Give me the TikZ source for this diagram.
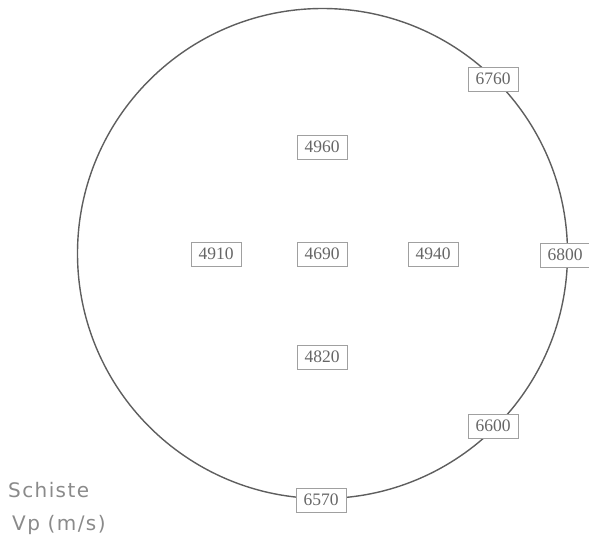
\documentclass[tikz,border=0pt]{standalone}
\usepackage{fontspec}
\setmainfont{Liberation Serif}
\newfontfamily\legendfont[LetterSpace=7]{DejaVu Sans}
\definecolor{rimgray}{HTML}{5E5E5E}
\definecolor{boxgray}{HTML}{A0A0A0}
\definecolor{numgray}{HTML}{666666}
\definecolor{legendgray}{HTML}{8A8A8A}

\begin{document}
\begin{tikzpicture}[x=1pt,y=-1pt,
    vbox/.style={draw=boxgray,line width=0.9pt,fill=white,text=numgray,
      minimum width=50pt,minimum height=24pt,inner sep=0pt,
      font=\fontsize{17.5}{17.5}\selectfont},
    legend/.style={text=legendgray,inner sep=0pt,anchor=base west,
      font=\legendfont\fontsize{20}{20}\selectfont}]
    \useasboundingbox (0,0) rectangle (589,542);
    \draw[rimgray,line width=1.4pt] (322.5,253.5) circle[radius=245];
    % velocity readings
    \foreach \v/\x/\y in {6760/493/79, 4960/322/147, 4910/216/254,
        4690/322/254, 4940/433/254, 6800/565/255, 4820/322/357,
        6600/493/426, 6570/321/500}
        \node[vbox] (v\v) at (\x,\y) {\v};
    \node[legend] (rock) at (8,497) {Schiste};
    \node[legend] (unit) at (12,530) {Vp (m/s)};
\end{tikzpicture}
\end{document}
